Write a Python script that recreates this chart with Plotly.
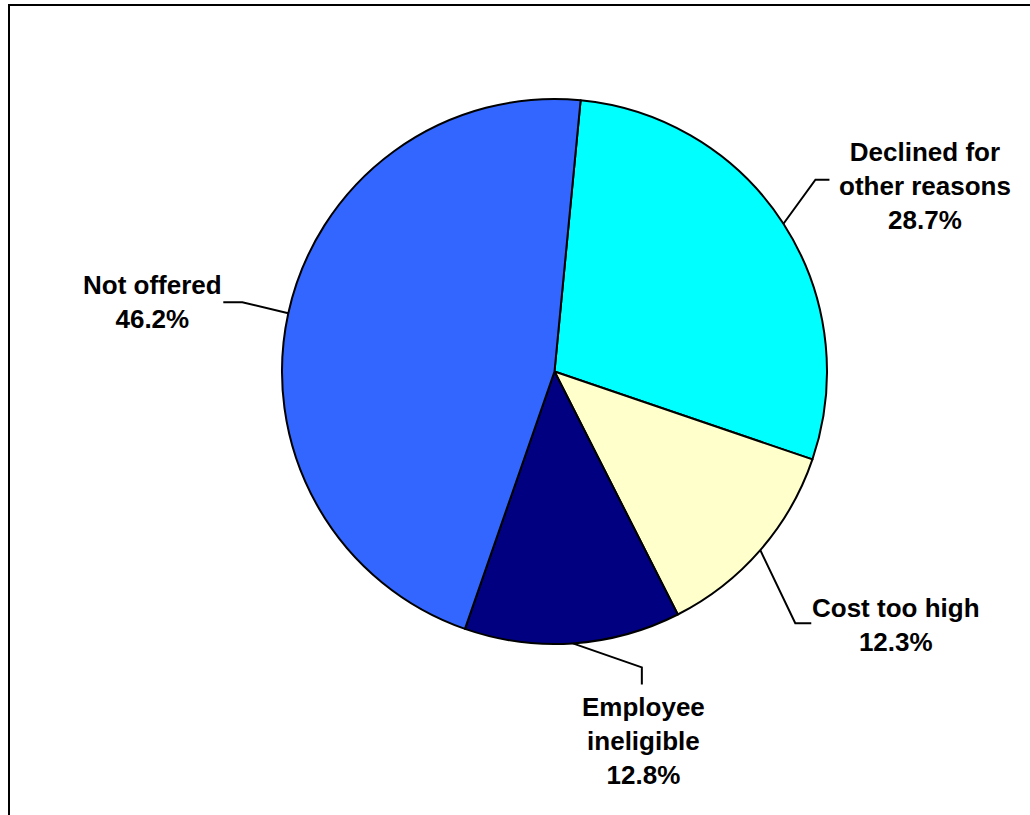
import math
import plotly.graph_objects as go

# Reasons for lacking employer coverage (share of workers, %)
labels = ["Declined for other reasons", "Cost too high", "Employee ineligible", "Not offered"]
label_lines = ["Declined for<br>other reasons", "Cost too high", "Employee<br>ineligible", "Not offered"]
values = [28.7, 12.3, 12.8, 46.2]
colors = ["#00FFFF", "#FFFFCC", "#000080", "#3366FF"]

W, H = 1030, 815
CX, CY, R = 554.5, 371.5, 272.5      # pie centre and radius in pixels
START = 5.5                          # first slice edge, degrees clockwise from 12 o'clock

# label block centres and leader-line bends (pixel offsets from the slice edge point)
label_pos = [(925, 186), (896, 625), (643, 741), (152, 302)]
bends = [
    [(32, -44), (46, -44)],
    [(35, 73), (51, 73)],
    [(69, 24), (69, 41)],
    [(-46, -11), (-65, -11)],
]


def px(x, y):
    return x / W, 1 - y / H


fig = go.Figure(go.Pie(
    labels=labels,
    values=values,
    sort=False,
    direction="clockwise",
    rotation=START,
    marker=dict(colors=colors, line=dict(color="black", width=2)),
    textinfo="none",
    hoverinfo="label+percent",
    showlegend=False,
    domain=dict(x=[(CX - R) / W, (CX + R) / W], y=[1 - (CY + R) / H, 1 - (CY - R) / H]),
))

shapes = []
annotations = []
total = sum(values)
acc = 0.0
for i, v in enumerate(values):
    mid = START + 360.0 * (acc + v / 2) / total
    acc += v
    a = math.radians(mid)
    ex, ey = CX + R * math.sin(a), CY - R * math.cos(a)
    pts = [(ex, ey)] + [(ex + dx, ey + dy) for dx, dy in bends[i]]
    path = "M " + " L ".join(f"{px(x, y)[0]:.5f},{px(x, y)[1]:.5f}" for x, y in pts)
    shapes.append(dict(type="path", path=path, xref="paper", yref="paper",
                       line=dict(color="black", width=2)))
    lx, ly = px(*label_pos[i])
    annotations.append(dict(
        x=lx, y=ly, xref="paper", yref="paper", showarrow=False,
        text=f"<b>{label_lines[i]}<br>{v:.1f}%</b>",
        align="center", xanchor="center", yanchor="middle",
        font=dict(family="Liberation Sans, Arial, sans-serif", size=26, color="black"),
    ))

# chart frame (left and top edges)
x0, y0 = px(9, 815)
x1, y1 = px(9, 5)
x2, _ = px(1030, 5)
shapes.append(dict(type="path", path=f"M {x0:.5f},{y0:.5f} L {x1:.5f},{y1:.5f} L {x2:.5f},{y1:.5f}",
                   xref="paper", yref="paper", line=dict(color="black", width=2)))

fig.update_layout(
    width=W, height=H,
    margin=dict(l=0, r=0, t=0, b=0),
    paper_bgcolor="white",
    plot_bgcolor="white",
    shapes=shapes,
    annotations=annotations,
)

fig.write_html("out.html")
